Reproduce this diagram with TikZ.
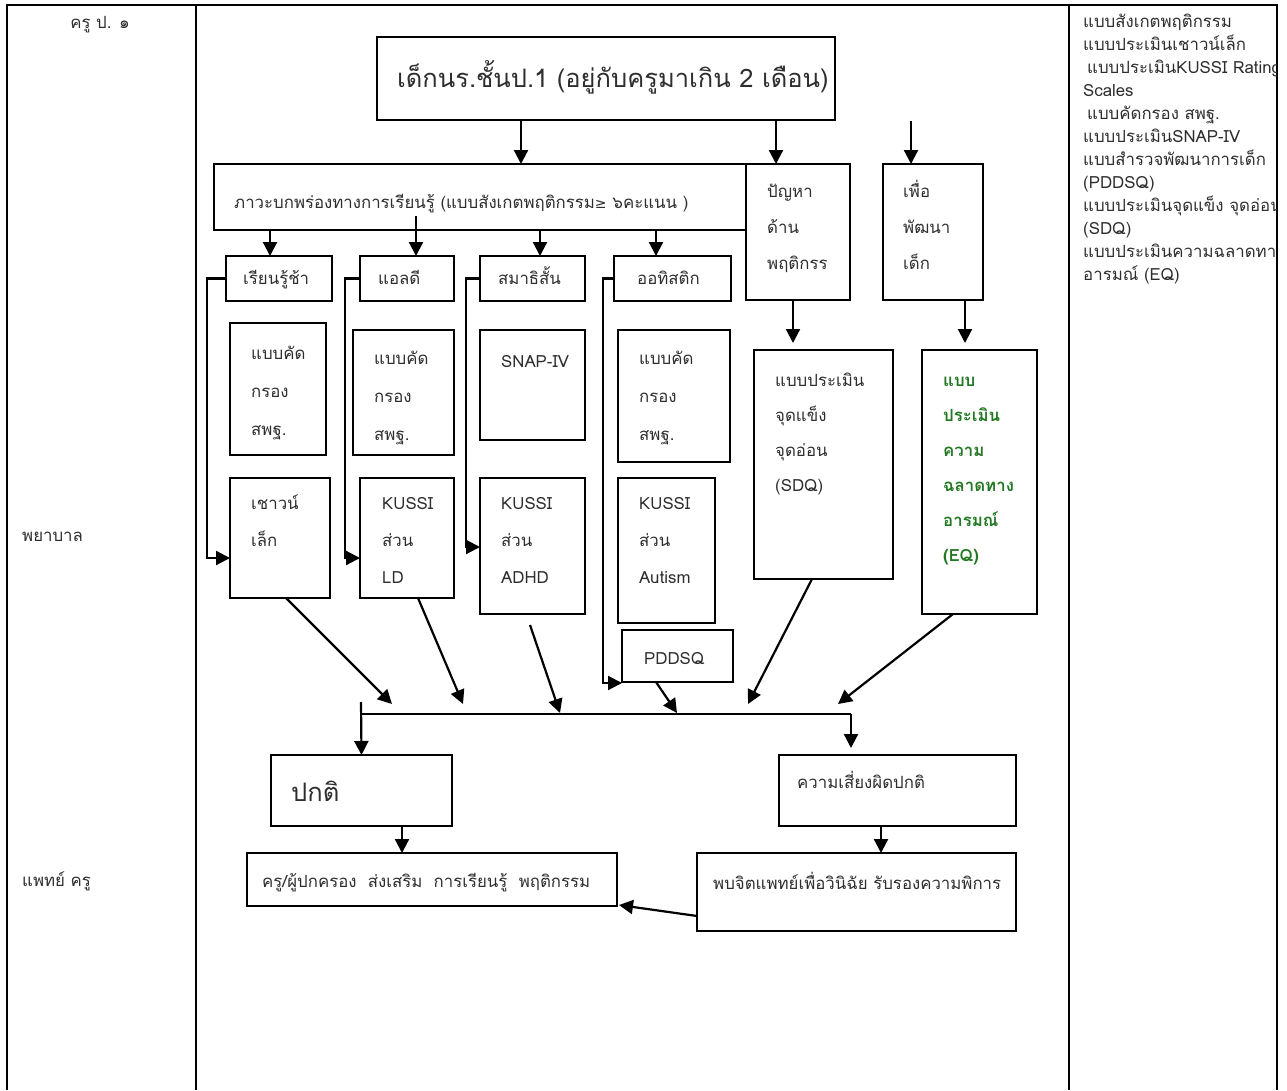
\documentclass[tikz,border=0pt]{standalone}
\usepackage{fontspec}
\setmainfont[Script=Thai]{Loma}
\newfontfamily\symfont{DejaVu Sans}
\usetikzlibrary{arrows.meta,calc}
\definecolor{eqgreen}{RGB}{35,120,35}
% box given by its corners (x1,y1) (x2,y2), y measured downwards
\newcommand\bx[5]{\node[box,minimum width={(#4-#2)*1pt},minimum height={(#5-#3)*1pt}] (#1) at (#2,#3) {};}
% stacked text lines: name, style, x, first baseline, step, list
\newcommand\lns[6]{\foreach \s [count=\i] in {#6} {\node[#2] (#1-\i) at (#3,{#4+(\i-1)*#5}) {\s};}}
\begin{document}
\begin{tikzpicture}[x=1pt,y=-1pt,
  tbl/.style={line width=2.6pt},
  box/.style={draw,line width=1.8pt,anchor=north west,inner sep=0pt,outer sep=0pt},
  tl/.style={anchor=base west,inner sep=0pt,text=black!82,font=\fontsize{16.8}{20}\selectfont},
  big/.style={tl,font=\fontsize{25.5}{30}\selectfont},
  sm/.style={tl,font=\fontsize{16.8}{20}\selectfont},
  eqt/.style={tl,text=eqgreen,font=\fontsize{16.8}{20}\selectfont\bfseries},
  arr/.style={line width=2.2pt,-{Triangle[length=14pt,width=14pt]}},
  ln/.style={line width=2.2pt},
]
\useasboundingbox (0,0) rectangle (1287,1090);
\fill[white] (0,0) rectangle (1287,1090);

% table frame
\draw[tbl] (7,1090) -- (7,5) -- (1277,5) -- (1277,1090);
\draw[tbl] (196,5) -- (196,1090);
\draw[tbl] (1069,5) -- (1069,1090);

% left column
\node[tl,anchor=base] (h1) at (100,28) {ครู ป. ๑};
\node[tl] (h2) at (22,541) {พยาบาล};
\node[tl] (h3) at (22,886) {แพทย์ ครู};

% right column list
\begin{scope}
\clip (1069,0) rectangle (1276,1090);
\lns{lst}{tl}{1083}{27}{23}{แบบสังเกตพฤติกรรม,แบบประเมินเชาวน์เล็ก,{\hspace{4pt}แบบประเมินKUSSI Rating},Scales,{\hspace{4pt}แบบคัดกรอง สพฐ.},แบบประเมินSNAP-IV,แบบสำรวจพัฒนาการเด็ก,(PDDSQ),แบบประเมินจุดแข็ง จุดอ่อน,(SDQ),แบบประเมินความฉลาดทาง,อารมณ์ (EQ)}
\end{scope}

% boxes
\bx{top}{377}{37}{835}{120}
\bx{ld}{214}{164}{746}{230}
\bx{prob}{746}{164}{850}{300}
\bx{dev}{883}{164}{983}{300}
\bx{slow}{226}{256}{332}{301}
\bx{ldx}{360}{256}{454}{301}
\bx{adhd}{480}{256}{585}{301}
\bx{aut}{614}{256}{731}{301}
\bx{s1}{230}{323}{326}{455}
\bx{s2}{353}{330}{454}{455}
\bx{snap}{480}{330}{585}{440}
\bx{s4}{618}{330}{730}{462}
\bx{iq}{230}{478}{330}{598}
\bx{kld}{360}{478}{454}{598}
\bx{kad}{480}{478}{585}{614}
\bx{kau}{618}{478}{715}{623}
\bx{pdd}{622}{630}{733}{682}
\bx{sdq}{754}{350}{893}{579}
\bx{eq}{922}{350}{1037}{614}
\bx{normal}{271}{755}{452}{826}
\bx{risk}{779}{755}{1016}{826}
\bx{parent}{247}{853}{617}{906}
\bx{doc}{697}{853}{1016}{931}

% box texts
\node[big] (top-t) at (397,87) {เด็กนร.ชั้นป.1 (อยู่กับครูมาเกิน 2 เดือน)};
\node[tl] (ld-t) at (234,208) {ภาวะบกพร่องทางการเรียนรู้ (แบบสังเกตพฤติกรรม{\symfont\fontsize{14}{16}\selectfont ≥} ๖คะแนน )};
\lns{prob}{tl}{767}{197}{36}{ปัญหา,ด้าน,พฤติกรร}
\lns{dev}{tl}{903}{197}{36}{เพื่อ,พัฒนา,เด็ก}
\node[tl] (slow-t) at (243,284) {เรียนรู้ช้า};
\node[tl] (ldx-t) at (378,284) {แอลดี};
\node[tl] (adhd-t) at (498,284) {สมาธิสั้น};
\node[tl] (aut-t) at (637,284) {ออทิสติก};
\lns{s1}{tl}{251}{359}{38}{แบบคัด,กรอง,สพฐ.}
\lns{s2}{tl}{374}{364}{38}{แบบคัด,กรอง,สพฐ.}
\node[tl] (snap-t) at (501,367) {SNAP-IV};
\lns{s4}{tl}{639}{364}{38}{แบบคัด,กรอง,สพฐ.}
\lns{iq}{tl}{251}{509}{37}{เชาวน์,เล็ก}
\lns{kld}{tl}{382}{509}{37}{KUSSI,ส่วน,LD}
\lns{kad}{tl}{501}{509}{37}{KUSSI,ส่วน,ADHD}
\lns{kau}{tl}{639}{509}{37}{KUSSI,ส่วน,Autism}
\node[tl] (pdd-t) at (644,664) {PDDSQ};
\lns{sdq}{tl}{775}{386}{35}{แบบประเมิน,จุดแข็ง,จุดอ่อน,(SDQ)}
\lns{eq}{eqt}{943}{386}{35}{แบบ,ประเมิน,ความ,ฉลาดทาง,อารมณ์,(EQ)}
\node[big] (normal-t) at (291,801) {ปกติ};
\node[sm] (risk-t) at (797,788) {ความเสี่ยงผิดปกติ};
\node[sm] (parent-t) at (262,887) {ครู/ผู้ปกครอง\ \ ส่งเสริม\ \ การเรียนรู้\ \ พฤติกรรม};
\node[sm] (doc-t) at (713,889) {พบจิตแพทย์เพื่อวินิฉัย รับรองความพิการ};

% arrows from the top box
\coordinate (a1) at (521,0);
\coordinate (a2) at (776,0);
\coordinate (a3) at (911,121);
\draw[arr] (top.south -| a1) -- (ld.north -| a1);
\draw[arr] (top.south -| a2) -- (prob.north -| a2);
\draw[arr] (a3) -- (dev.north -| a3);

% arrows to the four groups
\coordinate (b1) at (270,0);
\coordinate (b2) at (416,216);
\coordinate (b3) at (540,0);
\coordinate (b4) at (656,0);
\draw[arr] (ld.south -| b1) -- (slow.north -| b1);
\draw[arr] (b2) -- (ldx.north -| b2);
\draw[arr] (ld.south -| b3) -- (adhd.north -| b3);
\draw[arr] (ld.south -| b4) -- (aut.north -| b4);

% side links to the assessment boxes
\coordinate (c1) at (207,558);
\coordinate (c2) at (345,558);
\coordinate (c3) at (466,547);
\coordinate (c4) at (603,683);
\draw[arr] (slow.west) -- (slow.west -| c1) -- (c1) -- (c1 -| iq.west);
\draw[arr] (ldx.west) -- (ldx.west -| c2) -- (c2) -- (c2 -| kld.west);
\draw[arr] (adhd.west) -- (adhd.west -| c3) -- (c3) -- (c3 -| kad.west);
\draw[arr] (aut.west) -- (aut.west -| c4) -- (c4) -- (c4 -| pdd.west);

% behaviour and development branches
\coordinate (d1) at (793,0);
\coordinate (d2) at (965,0);
\draw[arr,shorten >=7pt] (prob.south -| d1) -- (sdq.north -| d1);
\draw[arr,shorten >=7pt] (dev.south -| d2) -- (eq.north -| d2);

% results gathered on the bar
\coordinate (e1) at (286,0);  \coordinate (e1t) at (392,704);
\coordinate (e2) at (418,0);  \coordinate (e2t) at (463,704);
\coordinate (e3) at (530,625); \coordinate (e3t) at (560,713);
\coordinate (e4) at (656,0);  \coordinate (e4t) at (677,713);
\coordinate (e5) at (812,0);  \coordinate (e5t) at (748,704);
\coordinate (e6) at (953,0);  \coordinate (e6t) at (838,704);
\draw[arr] (iq.south -| e1) -- (e1t);
\draw[arr] (kld.south -| e2) -- (e2t);
\draw[arr] (e3) -- (e3t);
\draw[arr] (pdd.south -| e4) -- (e4t);
\draw[arr] (sdq.south -| e5) -- (e5t);
\draw[arr] (eq.south -| e6) -- (e6t);

\coordinate (barL) at (361,714);
\coordinate (barR) at (851,714);
\coordinate (f1) at (361,702);
\coordinate (f2) at (851,748);
\draw[ln] (barL) -- (barR);
\draw[arr] (f1) -- (normal.north);
\draw[arr] (barR) -- (f2);

% outcomes
\coordinate (g1) at (402,0);
\coordinate (g2) at (881,0);
\coordinate (g3) at (697,916);
\coordinate (g4) at (619,905);
\draw[arr] (normal.south -| g1) -- (parent.north -| g1);
\draw[arr] (risk.south -| g2) -- (doc.north -| g2);
\draw[arr] (g3) -- (g4);
\end{tikzpicture}
\end{document}
